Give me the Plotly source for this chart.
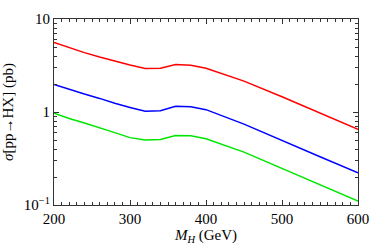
import plotly.graph_objects as go

mass = [200, 220, 240, 260, 280, 300, 320, 340, 360, 380, 400, 450, 500, 550, 600]
sigma_red = [5.6, 4.9, 4.35, 3.9, 3.5, 3.2, 2.93, 2.95, 3.24, 3.18, 2.95, 2.15, 1.46, 0.98, 0.65]
sigma_blue = [1.98, 1.75, 1.56, 1.4, 1.24, 1.12, 1.02, 1.03, 1.15, 1.14, 1.06, 0.74, 0.49, 0.33, 0.222]
sigma_green = [0.97, 0.85, 0.76, 0.68, 0.6, 0.53, 0.5, 0.505, 0.56, 0.555, 0.515, 0.37, 0.248, 0.165, 0.11]

x_ticks = [200, 300, 400, 500, 600]
y_ticks = [0.1, 1, 10]
y_ticktext = ["10<sup>\u22121</sup>", "1", "10"]
y_minor = [0.2, 0.3, 0.4, 0.5, 0.6, 0.7, 0.8, 0.9, 2, 3, 4, 5, 6, 7, 8, 9]

fig = go.Figure()
for ys, col in [(sigma_red, "rgb(255,0,0)"), (sigma_blue, "rgb(0,0,255)"), (sigma_green, "rgb(0,230,0)")]:
    fig.add_trace(go.Scatter(x=mass, y=ys, mode="lines", line=dict(color=col, width=1.5), showlegend=False))

font = dict(family="Liberation Serif, Times New Roman, serif", size=15, color="black")
fig.update_layout(
    width=371, height=246,
    margin=dict(l=54, r=13, t=19, b=41),
    paper_bgcolor="white", plot_bgcolor="white",
    font=font,
)
fig.update_xaxes(
    range=[200, 600], tickvals=x_ticks, ticks="inside", ticklen=5, tickcolor="#333",
    showline=True, linecolor="#333", linewidth=1, mirror="allticks", showgrid=False, zeroline=False,
    minor=dict(dtick=10, ticks="inside", ticklen=3, tickcolor="#333", showgrid=False),
    title=dict(text="<i>M</i><sub><i>H</i></sub> (GeV)", standoff=2, font=dict(size=15)),
    tickfont=dict(size=15), automargin=False,
)
fig.update_yaxes(
    type="log", range=[-1, 1], tickvals=y_ticks, ticktext=y_ticktext, ticks="inside", ticklen=5, tickcolor="#333",
    showline=True, linecolor="#333", linewidth=1, mirror="allticks", showgrid=False, zeroline=False,
    minor=dict(tickvals=y_minor, ticks="inside", ticklen=3, tickcolor="#333", showgrid=False),
    title=dict(text="<i>\u03c3</i>[pp\u2192HX] (pb)", standoff=6, font=dict(size=15)),
    tickfont=dict(size=15), automargin=False,
)
fig.write_html(
    "out.html",
    config={"displayModeBar": False},
    post_script="document.body.style.margin='0';document.body.style.overflow='hidden';",
)
